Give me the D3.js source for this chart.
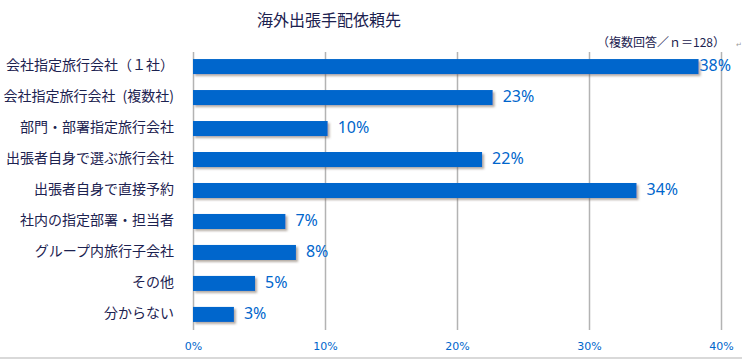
<!DOCTYPE html>
<html lang="ja">
<head>
<meta charset="UTF-8">
<title>海外出張手配依頼先</title>
<script src="https://cdn.jsdelivr.net/npm/d3@7"></script>
<style>
  body { margin: 0; background: #fff; }
</style>
</head>
<body>
<svg id="chart" width="742" height="360"></svg>
<script>
// 海外出張手配依頼先 (複数回答 / n=128)
const categories = [
  "会社指定旅行会社（１社）",
  "会社指定旅行会社\u2002(複数社)",
  "部門・部署指定旅行会社",
  "出張者自身で選ぶ旅行会社",
  "出張者自身で直接予約",
  "社内の指定部署・担当者",
  "グループ内旅行子会社",
  "その他",
  "分からない"
];
const values = [38.3, 22.7, 10.2, 21.9, 33.6, 7.0, 7.8, 4.7, 3.1];
const valueLabels = ["38%", "23%", "10%", "22%", "34%", "7%", "8%", "5%", "3%"];
const tickValues = [0, 10, 20, 30, 40];

const cjk = "'Noto Sans CJK JP', 'Noto Sans', sans-serif";
const navy = "#1c2250";
const blue = "#0066cc";

const svg = d3.select("#chart");
const width = +svg.attr("width");

const x = d3.scaleLinear().domain([0, 40]).range([193, 721]);
const y = d3.scaleBand().domain(categories).range([51, 330])
  .paddingInner(0.515).paddingOuter(0.26);

// shadow for bars
const defs = svg.append("defs");
defs.append("filter").attr("id", "shadow")
  .attr("x", "-5%").attr("y", "-30%").attr("width", "115%").attr("height", "180%")
  .append("feDropShadow")
  .attr("dx", 2).attr("dy", 2).attr("stdDeviation", 1)
  .attr("flood-color", "#6b5a48").attr("flood-opacity", 0.5);

// title
svg.append("text")
  .attr("x", 329).attr("y", 26)
  .attr("text-anchor", "middle")
  .style("font-family", cjk).style("font-size", "16px")
  .attr("fill", navy)
  .text("海外出張手配依頼先");

svg.append("text")
  .attr("x", 725).attr("y", 47)
  .attr("text-anchor", "end")
  .style("font-family", cjk).style("font-size", "12px")
  .attr("fill", navy)
  .text("（複数回答／ｎ＝128）");

svg.append("text")
  .attr("x", 736).attr("y", 47)
  .style("font-family", cjk).style("font-size", "7px")
  .attr("fill", "#999")
  .text("↵");

// gridlines
const grid = svg.append("g")
  .attr("transform", "translate(0,330)")
  .call(d3.axisBottom(x).tickValues(tickValues).tickSize(-(330 - 52)).tickFormat(""));
grid.select(".domain").remove();
grid.selectAll("line").attr("stroke", "#b3b3b3").attr("stroke-width", 1.5);

// x tick labels
const xAxis = svg.append("g")
  .attr("transform", "translate(0,339)")
  .call(d3.axisBottom(x).tickValues(tickValues).tickSize(0).tickPadding(3)
    .tickFormat(d => d + "%"));
xAxis.select(".domain").remove();
xAxis.selectAll("text")
  .attr("fill", blue)
  .style("font-family", "'DejaVu Sans', sans-serif")
  .style("font-size", "11px");

// bars
svg.append("g").selectAll("rect")
  .data(values)
  .join("rect")
  .attr("x", x(0))
  .attr("y", (d, i) => y(categories[i]))
  .attr("width", d => x(d) - x(0))
  .attr("height", y.bandwidth())
  .attr("fill", blue)
  .attr("filter", "url(#shadow)");

// category labels
svg.append("g").selectAll("text")
  .data(categories)
  .join("text")
  .attr("x", 174)
  .attr("y", d => y(d) + y.bandwidth() / 2 - 1)
  .attr("dy", "0.35em")
  .attr("text-anchor", "end")
  .style("font-family", cjk).style("font-size", "14px")
  .attr("fill", navy)
  .text(d => d);

// value labels
svg.append("g").selectAll("text")
  .data(values)
  .join("text")
  .attr("y", (d, i) => y(categories[i]) + y.bandwidth() / 2 - 1)
  .attr("dy", "0.35em")
  .style("font-family", "'Noto Sans', sans-serif").style("font-size", "16px")
  .attr("fill", blue)
  .text((d, i) => valueLabels[i])
  .attr("x", function (d) {
    const w = this.getComputedTextLength();
    return Math.min(x(d) + 10, 731 - w);
  });

// bottom border
svg.append("line")
  .attr("x1", 0).attr("x2", width)
  .attr("y1", 358).attr("y2", 358)
  .attr("stroke", "#d9d9d9").attr("stroke-width", 2);
</script>
</body>
</html>
